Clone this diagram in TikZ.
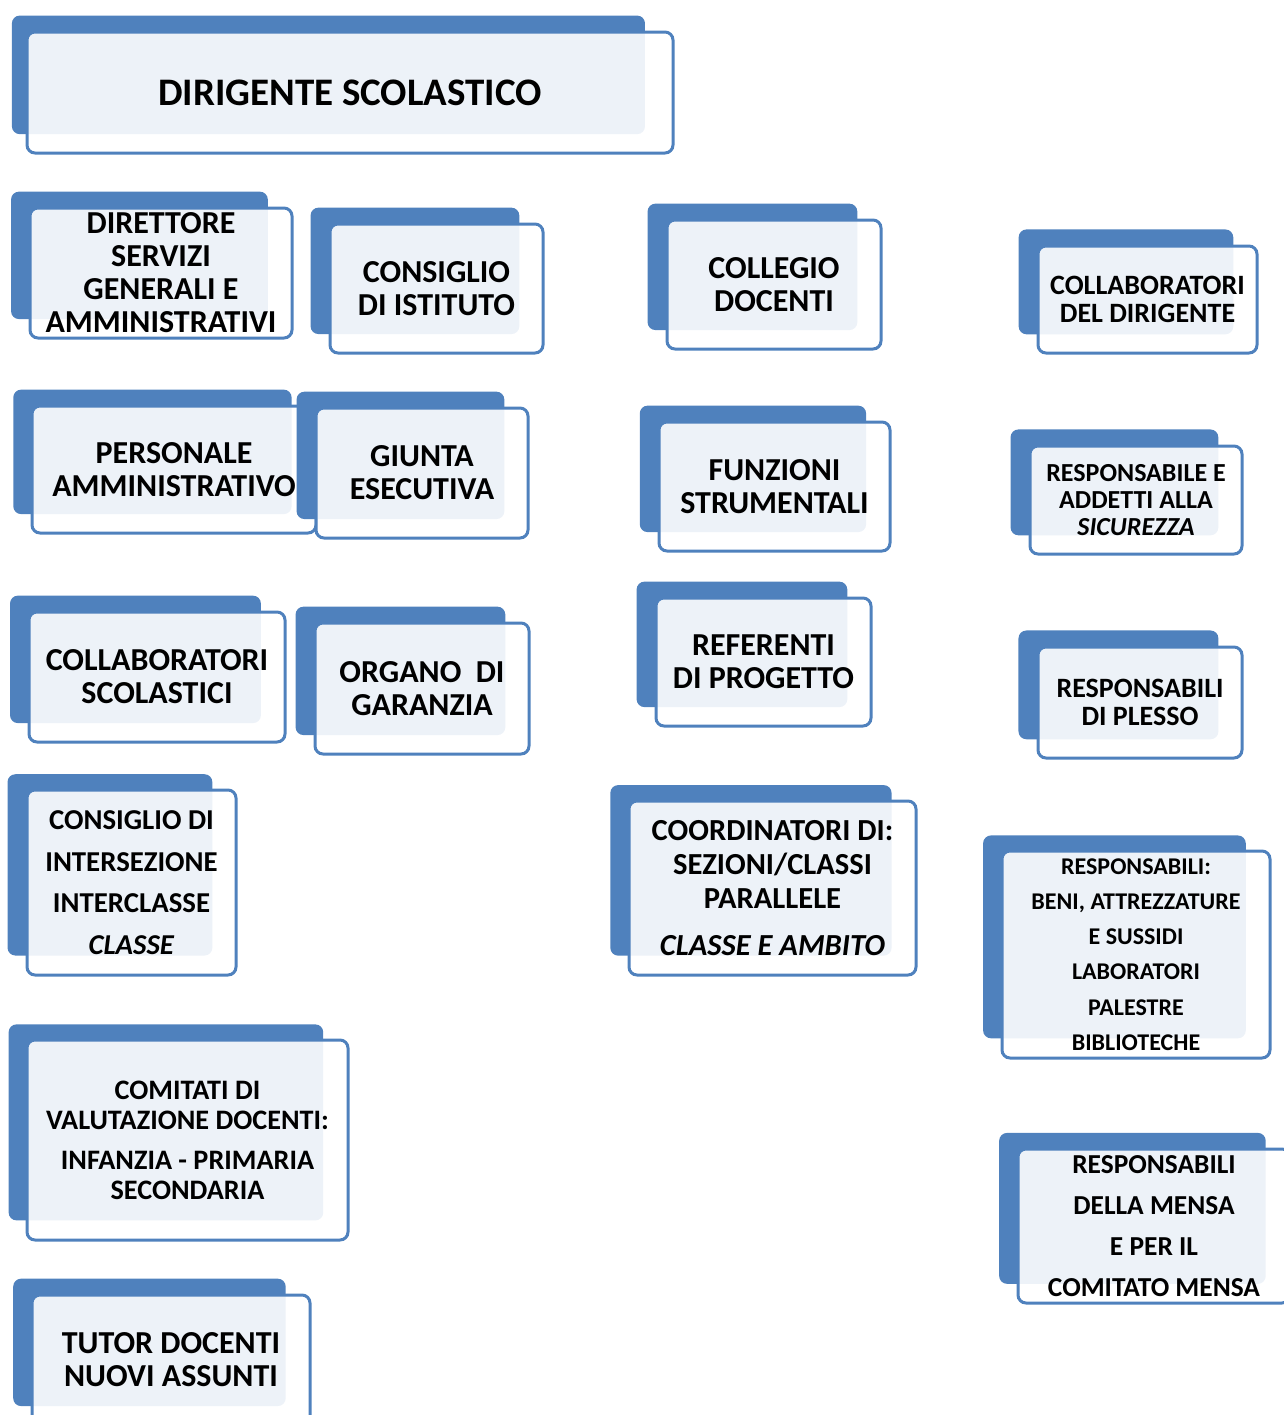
\documentclass[tikz,border=0pt]{standalone}
\usepackage{fontspec}
\setmainfont{Carlito}
\usetikzlibrary{shadows}
\definecolor{boxblue}{HTML}{4F81BD}
\tikzstyle{carica} = [rectangle, rounded corners=4pt, draw=boxblue, line width=1.5pt, fill=white, fill opacity=0.9, text opacity=1, align=center, inner sep=0pt, general shadow={fill=boxblue, fill opacity=1, draw=none, shadow scale=0.98, shadow xshift=-11pt, shadow yshift=9pt}]
\tikzstyle{grande} = [font=\fontsize{16}{16.5}\selectfont\bfseries]
\tikzstyle{medio} = [font=\fontsize{14}{14}\selectfont\bfseries]
\tikzstyle{piccolo} = [font=\fontsize{12}{17.6}\selectfont\bfseries]

\begin{document}
\begin{tikzpicture}[x=0.5pt, y=-0.5pt]
	\useasboundingbox (0,0) rectangle (1284,1415);
	\clip (0,0) rectangle (1284,1415);

	% prima colonna
	\node (dirigente) [carica, minimum width=323pt, minimum height=60.5pt, font=\fontsize{19.5}{20}\selectfont\bfseries] at (350,92.5) {DIRIGENTE SCOLASTICO};
	\node (dsga) [carica, grande, minimum width=131pt, minimum height=65pt] at (161,273) {DIRETTORE\\SERVIZI\\GENERALI E\\AMMINISTRATIVI};
	\node (personale) [carica, grande, minimum width=142pt, minimum height=63.5pt] at (174,469.5) {PERSONALE\\AMMINISTRATIVO};
	\node (collscol) [carica, grande, minimum width=128pt, minimum height=65pt] at (157,677) {COLLABORATORI\\SCOLASTICI};
	\node (intersez) [carica, font=\fontsize{14.4}{20.75}\selectfont\bfseries, minimum width=104.5pt, minimum height=92.5pt] at (131.5,882.5) {CONSIGLIO DI\\INTERSEZIONE\\INTERCLASSE\\\textit{CLASSE}};
	\node (comitati) [carica, font=\fontsize{14.1}{15}\selectfont\bfseries, minimum width=160.5pt, minimum height=100pt] at (187.5,1140) {COMITATI DI\\VALUTAZIONE DOCENTI:\\[5pt]INFANZIA - PRIMARIA\\SECONDARIA};
	\node (tutor) [carica, grande, minimum width=139pt, minimum height=65pt] at (171,1360) {TUTOR DOCENTI\\NUOVI ASSUNTI};

	% seconda colonna
	\node (consiglio) [carica, grande, minimum width=106.5pt, minimum height=64.5pt] at (436.5,288.5) {CONSIGLIO\\DI ISTITUTO};
	\node (giunta) [carica, grande, minimum width=106pt, minimum height=65pt] at (422,473) {GIUNTA\\ESECUTIVA};
	\node (organo) [carica, grande, minimum width=107pt, minimum height=65.5pt] at (422,688.5) {ORGANO\ \ DI\\GARANZIA};

	% terza colonna
	\node (collegio) [carica, grande, minimum width=107pt, minimum height=64.5pt] at (774,284.5) {COLLEGIO\\DOCENTI};
	\node (funzioni) [carica, grande, minimum width=115.5pt, minimum height=64.5pt] at (774.5,486.5) {FUNZIONI\\STRUMENTALI};
	\node (referenti) [carica, grande, minimum width=107.5pt, minimum height=64pt] at (763.5,662) {REFERENTI\\DI PROGETTO};
	\node (coordinatori) [carica, font=\fontsize{15.3}{17}\selectfont\bfseries, minimum width=143.5pt, minimum height=87pt] at (772.5,888) {COORDINATORI DI:\\SEZIONI/CLASSI\\PARALLELE\\[6.5pt]\textit{CLASSE E AMBITO}};

	% quarta colonna
	\node (colldir) [carica, medio, minimum width=109.5pt, minimum height=53.5pt] at (1147.5,299.5) {COLLABORATORI\\DEL DIRIGENTE};
	\node (sicurezza) [carica, font=\fontsize{13}{13.5}\selectfont\bfseries, minimum width=106pt, minimum height=54pt] at (1136,500) {RESPONSABILE E\\ADDETTI ALLA\\\textit{SICUREZZA}};
	\node (plesso) [carica, medio, minimum width=102pt, minimum height=55.5pt] at (1140,702.5) {RESPONSABILI\\DI PLESSO};
	\node (beni) [carica, piccolo, minimum width=134pt, minimum height=103.5pt] at (1136,954.5) {RESPONSABILI:\\BENI, ATTREZZATURE\\E SUSSIDI\\LABORATORI\\PALESTRE\\BIBLIOTECHE};
	\node (mensa) [carica, font=\fontsize{13.7}{20.5}\selectfont\bfseries, minimum width=136pt, minimum height=77pt] at (1154,1226) {RESPONSABILI\\DELLA MENSA\\E PER IL\\COMITATO MENSA};
\end{tikzpicture}
\end{document}
